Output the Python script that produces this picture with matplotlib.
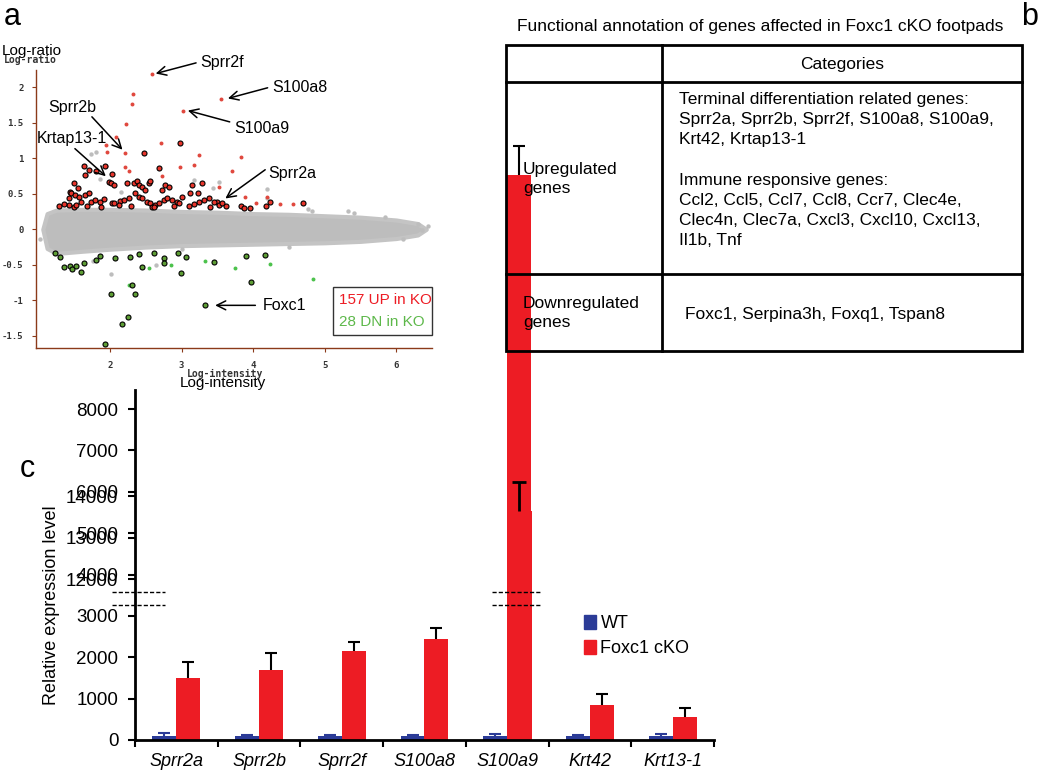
import numpy as np
import matplotlib.pyplot as plt
from matplotlib.patches import Rectangle

plt.rcParams['font.family'] = ['Liberation Sans', 'DejaVu Sans']

W, H = 1050, 772


def rect(l, t, r, b):
    # pixel box -> figure fraction
    return [l / W, 1 - b / H, (r - l) / W, (b - t) / H]


# ---------------------------------------------------------------- panel a data
cloud_x = [1.06, 1.12, 1.25, 1.6, 2.0, 2.5, 3.0, 3.5, 4.0, 4.5, 5.0, 5.5, 6.0, 6.3, 6.42]
cloud_hi = [0.0, 0.22, 0.27, 0.28, 0.28, 0.27, 0.25, 0.24, 0.22, 0.21, 0.19, 0.17, 0.13, 0.08, 0.0]
cloud_lo = [0.0, -0.27, -0.34, -0.31, -0.28, -0.25, -0.23, -0.22, -0.21, -0.20, -0.19, -0.17, -0.13, -0.08, 0.0]

grey_x = [1.02, 2.01, 1.81, 3.52, 3.17, 5.33, 5.41, 5.85, 6.31, 6.36, 6.09, 4.76, 4.82, 4.19,
          4.20, 1.74, 2.64, 1.76, 3.0, 4.5, 6.45, 1.66, 1.86, 2.16, 3.44]
grey_y = [-0.13, -0.63, 1.08, 0.67, 0.69, 0.26, 0.23, 0.17, 0.08, -0.01, -0.13, 0.29, 0.26, 0.44,
          0.56, 1.06, -0.50, -0.45, -0.28, -0.25, 0.05, 0.76, 0.70, 0.52, 0.58]

up_x = [1.63, 1.70, 1.81, 1.93, 2.03, 1.99, 2.01, 2.06, 1.65, 1.50, 1.44, 1.46, 1.51, 1.56, 1.42,
        1.42, 1.49, 1.53, 1.60, 1.65, 1.70, 1.74, 1.79, 1.86, 1.91, 2.03, 2.06, 2.14, 2.20, 2.26,
        2.23, 2.33, 2.37, 2.40, 2.44, 2.49, 2.54, 2.56, 2.35, 2.40, 2.44, 2.51, 2.56, 2.58, 2.63,
        2.68, 2.72, 2.77, 2.82, 2.75, 2.79, 2.86, 2.93, 2.96, 3.00, 3.10, 3.12, 3.14, 3.23, 3.24,
        3.28, 3.31, 3.38, 3.40, 3.49, 3.52, 3.56, 3.62, 2.69, 2.47, 2.98, 3.45, 3.83, 3.87, 3.95,
        4.18, 4.23, 4.70, 1.28, 1.35, 1.55, 1.68, 1.88, 2.12, 2.29, 2.62, 2.90, 3.18]
up_y = [0.89, 0.83, 0.82, 0.89, 0.78, 0.67, 0.65, 0.62, 0.76, 0.65, 0.53, 0.51, 0.48, 0.46, 0.44,
        0.34, 0.32, 0.34, 0.39, 0.48, 0.51, 0.39, 0.41, 0.39, 0.42, 0.37, 0.37, 0.40, 0.41, 0.44,
        0.65, 0.65, 0.68, 0.62, 0.60, 0.55, 0.65, 0.68, 0.51, 0.46, 0.44, 0.39, 0.37, 0.32, 0.34,
        0.37, 0.55, 0.62, 0.60, 0.41, 0.44, 0.41, 0.39, 0.37, 0.46, 0.33, 0.51, 0.62, 0.51, 0.39,
        0.65, 0.41, 0.44, 0.32, 0.39, 0.34, 0.37, 0.33, 0.86, 1.07, 1.21, 0.39, 0.33, 0.30, 0.30,
        0.33, 0.38, 0.37, 0.33, 0.36, 0.58, 0.33, 0.32, 0.34, 0.33, 0.31, 0.33, 0.35]

up_dot_x = [2.58, 3.55, 3.02, 2.32, 2.31, 2.22, 2.08, 1.94, 1.96, 2.21, 2.71, 3.25, 3.83, 3.17,
            2.98, 2.73, 3.71, 1.94, 2.21, 2.27, 3.52, 3.89, 4.04, 4.19, 4.38, 4.56]
up_dot_y = [2.18, 1.83, 1.67, 1.90, 1.76, 1.48, 1.30, 1.18, 1.09, 1.07, 1.22, 1.05, 1.02, 0.91,
            0.87, 0.75, 0.82, 0.89, 0.87, 0.82, 0.59, 0.46, 0.37, 0.46, 0.36, 0.36]

dn_x = [1.23, 1.30, 1.35, 1.44, 1.47, 1.52, 1.60, 1.64, 1.81, 1.86, 2.07, 2.28, 2.40, 2.44, 2.62,
        2.75, 2.75, 2.95, 2.99, 3.06, 3.45, 2.01, 2.30, 2.35, 2.25, 2.17, 1.93, 3.33, 3.90, 4.17, 3.97]
dn_y = [-0.34, -0.39, -0.53, -0.52, -0.56, -0.52, -0.60, -0.47, -0.43, -0.37, -0.41, -0.39, -0.35,
        -0.53, -0.34, -0.40, -0.48, -0.33, -0.62, -0.39, -0.46, -0.91, -0.79, -0.91, -1.23, -1.33,
        -1.61, -1.07, -0.37, -0.36, -0.74]

dn_dot_x = [2.54, 2.85, 2.26, 3.33, 3.74, 4.24, 4.83]
dn_dot_y = [-0.54, -0.50, -0.78, -0.44, -0.55, -0.49, -0.70]

lab_names = ['Sprr2f', 'S100a8', 'S100a9', 'Sprr2b', 'Krtap13-1', 'Sprr2a', 'Foxc1']
lab_tip = [(2.60, 2.18), (3.61, 1.83), (3.05, 1.68), (2.20, 1.09), (1.97, 0.72), (3.58, 0.41), (3.43, -1.07)]
lab_text = [(3.26, 2.35), (4.27, 2.0), (3.73, 1.42), (1.13, 1.71), (0.98, 1.28), (4.21, 0.79), (4.14, -1.07)]
lab_tail = [(3.24, 2.35), (4.24, 2.0), (3.71, 1.50), (1.72, 1.61), (1.48, 1.16), (4.20, 0.86), (4.07, -1.07)]

# ---------------------------------------------------------------- panel c data
genes = ['Sprr2a', 'Sprr2b', 'Sprr2f', 'S100a8', 'S100a9', 'Krt42', 'Krt13-1']
wt = [90, 95, 95, 95, 100, 95, 95]
wt_err = [80, 30, 30, 30, 40, 20, 55]
ko = [1500, 1700, 2140, 2450, 13650, 850, 560]
ko_err = [390, 410, 240, 250, 700, 260, 220]
lower_ticks = [0, 1000, 2000, 3000, 4000, 5000, 6000, 7000, 8000]
upper_ticks = [12000, 13000, 14000]
upper_offset = 8110   # where the broken upper segment lands on the lower scale

RED = '#ED1C24'
BLUE = '#2B3B97'
GREEN = '#5DB84A'

fig = plt.figure(figsize=(W / 100, H / 100), dpi=100)

# ============================================================ a: MA plot
axa = fig.add_axes(rect(36, 70, 432, 348))
axa.fill_between(cloud_x, cloud_lo, cloud_hi, color='#bdbdbd', lw=3, edgecolor='#c4c4c4', zorder=1)
axa.scatter(grey_x, grey_y, s=10, color='#bdbdbd', lw=0, zorder=1)
axa.scatter(up_dot_x, up_dot_y, s=8, color='#E0483E', lw=0, zorder=2)
axa.scatter(dn_dot_x, dn_dot_y, s=8, color='#4CC24C', lw=0, zorder=2)
axa.scatter(up_x, up_y, s=13, color='#E8352B', edgecolor='black', lw=0.8, zorder=3)
axa.scatter(dn_x, dn_y, s=13, color='#5E9E35', edgecolor='black', lw=0.8, zorder=3)

for name, tip, txt, tail in zip(lab_names, lab_tip, lab_text, lab_tail):
    axa.annotate('', xy=tip, xytext=tail,
                 arrowprops=dict(arrowstyle='->', lw=1.1, color='black', mutation_scale=16))
    axa.text(txt[0], txt[1], name, fontsize=11.5, ha='left', va='center')

axa.set_xlim(0.965, 6.5)
axa.set_ylim(-1.67, 2.24)
axa.set_xticks([2, 3, 4, 5, 6])
axa.set_yticks([-1.5, -1, -0.5, 0, 0.5, 1, 1.5, 2])
axa.set_yticklabels(['-1.5', '-1', '-0.5', '0', '0.5', '1', '1.5', '2'])
for s in ['top', 'right']:
    axa.spines[s].set_visible(False)
for s in ['left', 'bottom']:
    axa.spines[s].set_color('#8B3A1A')
    axa.spines[s].set_linewidth(1)
axa.tick_params(colors='#8B3A1A', length=3, width=0.8, labelsize=6.5,
                labelcolor='#333333', pad=6)
for t in axa.get_xticklabels() + axa.get_yticklabels():
    t.set_family('DejaVu Sans Mono')
    t.set_fontweight('bold')

# ============================================================ c: bar chart
axc = fig.add_axes(rect(135, 390, 714, 740))
axc.patch.set_alpha(0)
x = np.arange(len(genes))
w = 0.29
axc.bar(x - w / 2, wt, w, color=BLUE, zorder=2)
axc.bar(x + w / 2, ko, w, color=RED, zorder=2, clip_on=False)
# relic of the broken upper segment for S100a9
axc.bar(x[4] + w / 2 + 0.01, ko[4] - upper_offset, w, color=RED, zorder=2)

eb_wt = axc.errorbar(x - w / 2, wt, yerr=[np.zeros(len(wt)), wt_err], fmt='none',
                     ecolor=BLUE, elinewidth=1.5, capsize=4, capthick=1.5, zorder=3)
eb_ko = axc.errorbar(x + w / 2, ko, yerr=[np.zeros(len(ko)), ko_err], fmt='none',
                     ecolor='black', elinewidth=1.5, capsize=4, capthick=1.5, zorder=3)
eb_up = axc.errorbar([x[4] + w / 2], [ko[4] - upper_offset], yerr=[[0], [ko_err[4]]], fmt='none',
                     ecolor='black', elinewidth=2, capsize=5, capthick=2, zorder=3)
for eb in (eb_wt, eb_ko, eb_up):
    for a in eb.get_children():
        a.set_clip_on(False)
    # upper caps only
    caps = eb[1]
    if len(caps) == 2:
        caps[0].set_visible(False)

# axis-break marks
for xs in ([-0.78, -0.14], [3.82, 4.41]):
    for yv in (3577, 3263):
        axc.plot(xs, [yv, yv], ls='--', color='black', lw=1, dashes=(3, 1.5),
                 clip_on=False, zorder=4)

axc.set_xlim(-0.5, 6.5)
axc.set_ylim(0, 8460)
yt = lower_ticks + [v - upper_offset for v in upper_ticks]
axc.set_yticks(yt)
axc.set_yticklabels([str(v) for v in lower_ticks] + [str(v) for v in upper_ticks])
axc.set_xticks(np.arange(-0.5, 7, 1))
axc.set_xticklabels([])
axc.set_xticks(x, minor=True)
axc.set_xticklabels(genes, minor=True, style='italic', fontsize=13)
axc.tick_params(axis='x', which='minor', length=0, pad=9)
axc.tick_params(axis='x', which='major', length=5, width=1.5, direction='out')
axc.tick_params(axis='y', length=5, width=1.5, labelsize=13.5, direction='out', pad=7)
for s in ['top', 'right']:
    axc.spines[s].set_visible(False)
for s in ['left', 'bottom']:
    axc.spines[s].set_linewidth(2)

axc.legend(handles=[Rectangle((0, 0), 1, 1, color=BLUE), Rectangle((0, 0), 1, 1, color=RED)],
           labels=['WT', 'Foxc1 cKO'], frameon=False, fontsize=13,
           handlelength=0.65, handleheight=0.75, handletextpad=0.25, labelspacing=0.45,
           loc='upper left', bbox_to_anchor=(568 / W, 1 - 599 / H),
           bbox_transform=fig.transFigure)

fig.text(52 / W, 1 - 605 / H, 'Relative expression level', rotation=90,
         fontsize=13, ha='center', va='center')

# ============================================================ overlay: labels + b table
ov = fig.add_axes([0, 0, 1, 1], zorder=10)
ov.set_xlim(0, W)
ov.set_ylim(H, 0)
ov.axis('off')
ov.patch.set_alpha(0)

ov.text(4, 17, 'a', fontsize=22, ha='left', va='center')
ov.text(1021, 17, 'b', fontsize=22, ha='left', va='center')
ov.text(20, 469, 'c', fontsize=22, ha='left', va='center')

ov.text(2, 51, 'Log-ratio', fontsize=11, ha='left', va='center')
ov.text(4, 60, 'Log-ratio', fontsize=7, ha='left', va='center',
        family='DejaVu Sans Mono', fontweight='bold', color='#333333')
ov.text(180, 383, 'Log-intensity', fontsize=11, ha='left', va='center')
ov.text(187, 374, 'Log-intensity', fontsize=7, ha='left', va='center',
        family='DejaVu Sans Mono', fontweight='bold', color='#333333')

# MA legend box
ov.add_patch(Rectangle((333, 287), 99, 48, fill=False, lw=1, edgecolor='#333333'))
ov.text(339, 300, '157 UP in KO', color=RED, fontsize=11, va='center')
ov.text(339, 322, '28 DN in KO', color=GREEN, fontsize=11, va='center')

# table
TFS = 12.5
ov.text(517, 27, 'Functional annotation of genes affected in Foxc1 cKO footpads',
        fontsize=TFS, ha='left', va='center')
ov.add_patch(Rectangle((506, 45), 516, 306, fill=False, lw=2, edgecolor='black'))
ov.plot([506, 1022], [82, 82], color='black', lw=2)
ov.plot([506, 1022], [274, 274], color='black', lw=2)
ov.plot([662, 662], [45, 351], color='black', lw=2)

ov.text(842, 65, 'Categories', fontsize=TFS, ha='center', va='center')
ov.text(523, 179, 'Upregulated\ngenes', fontsize=TFS, ha='left', va='center', linespacing=1.4)
ov.text(523, 313, 'Downregulated\ngenes', fontsize=TFS, ha='left', va='center', linespacing=1.4)
up_lines = ['Terminal differentiation related genes:',
            'Sprr2a, Sprr2b, Sprr2f, S100a8, S100a9,',
            'Krt42, Krtap13-1',
            '',
            'Immune responsive genes:',
            'Ccl2, Ccl5, Ccl7, Ccl8, Ccr7, Clec4e,',
            'Clec4n, Clec7a, Cxcl3, Cxcl10, Cxcl13,',
            'Il1b, Tnf']
ov.text(679, 92, '\n'.join(up_lines), fontsize=TFS, ha='left', va='top', linespacing=1.43)
ov.text(685, 314, 'Foxc1, Serpina3h, Foxq1, Tspan8', fontsize=TFS, ha='left', va='center')

fig.savefig('out.png', dpi=100, facecolor='white')
